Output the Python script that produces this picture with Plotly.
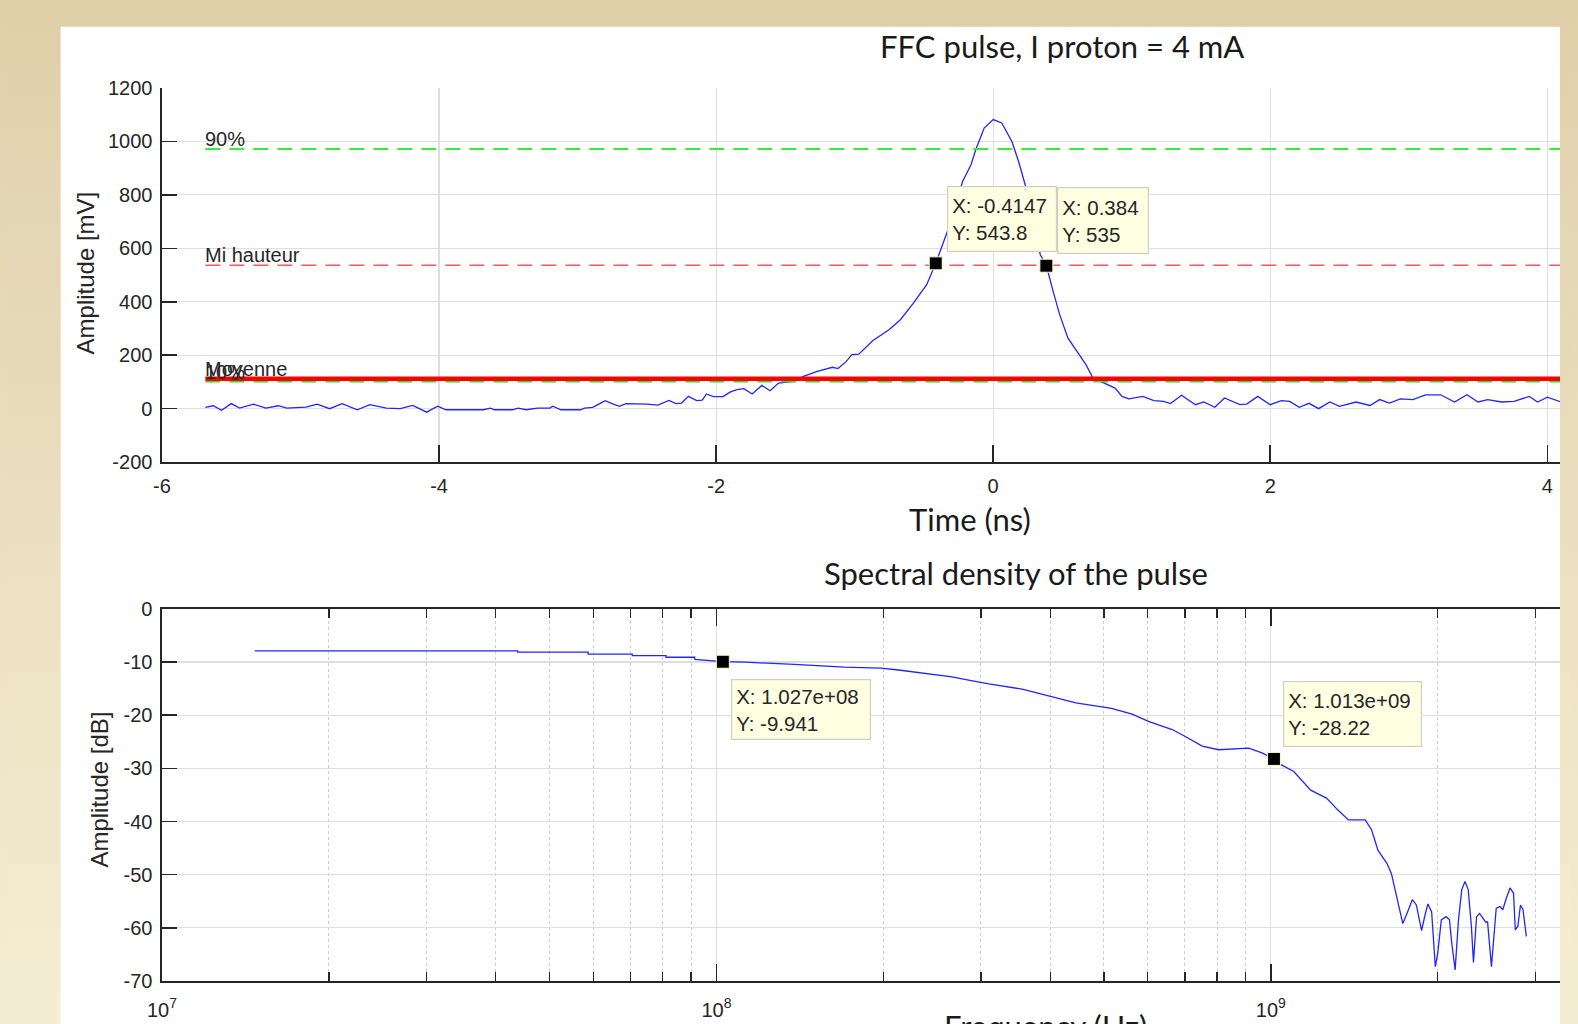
import plotly.graph_objects as go

# ---------------- data ----------------
time_ns = [-5.687, -5.63, -5.57, -5.50, -5.44, -5.34, -5.25, -5.16, -5.10, -4.96, -4.88, -4.79,
           -4.70, -4.59, -4.50, -4.38, -4.28, -4.19, -4.09, -4.01, -3.95, -3.68, -3.63, -3.60,
           -3.47, -3.43, -3.37, -3.29, -3.20, -3.18, -3.12, -2.98, -2.95, -2.89, -2.84, -2.80,
           -2.76, -2.70, -2.65, -2.50, -2.42, -2.38, -2.34, -2.29, -2.25, -2.20, -2.14, -2.10,
           -2.07, -2.02, -1.95, -1.90, -1.85, -1.80, -1.74, -1.67, -1.61, -1.55, -1.44, -1.37,
           -1.27, -1.16, -1.12, -1.06, -1.02, -0.97, -0.87, -0.75, -0.67, -0.58, -0.48, -0.4147,
           -0.33, -0.22, -0.16, -0.126, -0.065, 0.0, 0.062, 0.135, 0.183, 0.231, 0.29, 0.34,
           0.384, 0.433, 0.48, 0.54, 0.61, 0.67, 0.72, 0.82, 0.88, 0.93, 0.98, 1.08, 1.16,
           1.23, 1.28, 1.36, 1.42, 1.46, 1.52, 1.60, 1.67, 1.78, 1.83, 1.91, 2.00, 2.08, 2.14,
           2.21, 2.28, 2.35, 2.43, 2.50, 2.62, 2.72, 2.79, 2.86, 2.94, 3.03, 3.12, 3.23, 3.33,
           3.42, 3.50, 3.57, 3.67, 3.76, 3.87, 3.93, 4.00, 4.10]
amp_mv = [5, 11, -6, 19, 2, 17, 2, 11, 2, 6, 17, 0,
          19, -4, 15, 2, 0, 12, -13, 9, -4, -4, 2, -4,
          -4, 2, -4, 2, 2, 9, -4, -4, 2, 5, 19, 30,
          21, 9, 19, 17, 13, 21, 31, 19, 21, 46, 30, 32,
          55, 45, 45, 62, 71, 75, 55, 87, 67, 96, 102, 121,
          140, 155, 150, 177, 202, 204, 254, 296, 333, 392, 464, 543.8,
          664, 851, 913, 969, 1050, 1082, 1069, 1000, 926, 838, 713, 576,
          535, 439, 352, 264, 208, 165, 115, 90, 77, 46, 37, 46, 30,
          27, 19, 50, 27, 15, 25, 5, 40, 15, 17, 46, 15, 30, 27,
          5, 20, 0, 25, 9, 25, 12, 34, 21, 37, 34, 52, 52, 25,
          52, 25, 34, 25, 27, 46, 25, 43, 25]

level_labels = ["90%", "Mi hauteur", "Moyenne", "10%"]
level_values = [972, 537, 112, 101]
level_t_span = [-5.687, 4.3]

tip_t = [-0.4147, 0.384]
tip_mv = [543.8, 535]

freq_hz = [1.47e7, 4.38e7, 4.38e7, 5.87e7, 5.87e7, 7.05e7, 7.05e7, 8.11e7, 8.11e7, 9.14e7, 9.14e7,
           1.027e8, 1.13e8, 1.245e8, 1.41e8, 1.70e8, 1.98e8, 2.13e8, 2.29e8, 2.45e8, 2.66e8,
           2.85e8, 3.10e8, 3.56e8, 3.97e8, 4.45e8, 5.16e8, 5.62e8, 6.03e8, 6.64e8, 7.01e8,
           7.52e8, 8.05e8, 9.12e8, 9.64e8, 1.013e9, 1.047e9, 1.10e9, 1.18e9, 1.26e9, 1.32e9,
           1.38e9, 1.48e9, 1.52e9, 1.56e9, 1.62e9, 1.65e9, 1.69e9, 1.73e9, 1.76e9, 1.80e9,
           1.83e9, 1.87e9, 1.90e9, 1.92e9, 1.95e9, 1.98e9, 2.00e9, 2.03e9, 2.07e9, 2.10e9,
           2.12e9, 2.15e9, 2.18e9, 2.21e9, 2.24e9, 2.27e9, 2.30e9, 2.32e9, 2.35e9, 2.38e9,
           2.44e9, 2.46e9, 2.50e9, 2.55e9, 2.59e9, 2.62e9, 2.66e9, 2.70e9, 2.74e9, 2.76e9,
           2.79e9, 2.82e9, 2.85e9, 2.89e9]
spec_db = [-7.9, -7.9, -8.15, -8.15, -8.5, -8.5, -8.8, -8.8, -9.1, -9.1, -9.5,
           -9.941, -10.03, -10.2, -10.5, -10.97, -11.15, -11.5, -11.9, -12.3, -12.8,
           -13.4, -14.1, -15.1, -16.4, -17.7, -18.7, -19.8, -21.2, -22.7, -24.0,
           -25.8, -26.5, -26.2, -27.1, -28.22, -29.4, -30.6, -34.1, -35.6, -37.8,
           -39.7, -39.7, -41.6, -45.4, -47.9, -49.8, -54.8, -59.2, -57.3, -54.7,
           -55.7, -60.5, -57.3, -55.5, -57.0, -67.3, -64.8, -58.5, -57.9, -58.5,
           -62.9, -67.9, -58.5, -52.8, -51.3, -52.8, -59.7, -66.5, -57.9, -57.3,
           -58.9, -58.9, -67.3, -56.3, -56.0, -56.6, -54.4, -52.5, -53.5, -60.4,
           -59.7, -55.7, -56.6, -61.6]

tip_f = [1.027e8, 1.013e9]
tip_db = [-9.941, -28.22]

x1_ticks = [-6, -4, -2, 0, 2, 4]
x1_ticktext = ["-6", "-4", "-2", "0", "2", "4"]
y1_ticks = [-200, 0, 200, 400, 600, 800, 1000, 1200]
y1_ticktext = ["-200", "0", "200", "400", "600", "800", "1000", "1200"]
x2_ticks = [1e7, 1e8, 1e9]
x2_ticktext = ["10<sup>7</sup>", "10<sup>8</sup>", "10<sup>9</sup>"]
x2_minor = [2e7, 3e7, 4e7, 5e7, 6e7, 7e7, 8e7, 9e7, 2e8, 3e8, 4e8, 5e8, 6e8, 7e8, 8e8, 9e8, 2e9, 3e9]
y2_ticks = [-70, -60, -50, -40, -30, -20, -10, 0]
y2_ticktext = ["-70", "-60", "-50", "-40", "-30", "-20", "-10", "0"]

# ---------------- layout geometry ----------------
# The page body keeps its default 8px margin, so the figure is drawn 8px in from
# the top-left corner of the window; all positions below are window pixels.
OFF = 8
WIN_W, WIN_H = 1578, 1024
WIDTH, HEIGHT = WIN_W - OFF, WIN_H - OFF
L, R, T, B = 162.3, 1560.0, 88.3, 981.0        # plot area in window pixels
PW, PH = R - L, B - T


def ax(px):
    return (px - L) / PW


def ay(py):
    return (B - py) / PH


TXT = "#262626"
MFONT = "Liberation Sans, Arial, Helvetica, sans-serif"
TFONT = "Lato, Open Sans, sans-serif"
GRID = "#dedede"

fig = go.Figure()

fig.add_trace(go.Scatter(x=time_ns, y=amp_mv, mode="lines", line=dict(color="#2424ff", width=1.3),
                         xaxis="x", yaxis="y", showlegend=False, hoverinfo="skip"))
level_styles = [dict(color="#33ee33", width=2, dash="15px,9px"),
                dict(color="#ff5555", width=1.6, dash="15px,9px"),
                dict(color="#ff0000", width=4.5),
                dict(color="#33dd33", width=1.6, dash="15px,9px")]
for i in [0, 1, 3, 2]:
    fig.add_trace(go.Scatter(x=level_t_span, y=[level_values[i]] * 2, mode="lines",
                             line=level_styles[i], xaxis="x", yaxis="y", showlegend=False,
                             hoverinfo="skip"))
fig.add_trace(go.Scatter(x=tip_t, y=tip_mv, mode="markers",
                         marker=dict(symbol="square", size=13, color="black",
                                     line=dict(color="#ffffcc", width=1)),
                         xaxis="x", yaxis="y", showlegend=False, hoverinfo="skip"))

fig.add_trace(go.Scatter(x=freq_hz, y=spec_db, mode="lines", line=dict(color="#2424ff", width=1.3),
                         xaxis="x2", yaxis="y2", showlegend=False, hoverinfo="skip"))
fig.add_trace(go.Scatter(x=tip_f, y=tip_db, mode="markers",
                         marker=dict(symbol="square", size=13, color="black",
                                     line=dict(color="#ffffcc", width=1)),
                         xaxis="x2", yaxis="y2", showlegend=False, hoverinfo="skip"))

# ---------------- background shapes ----------------
shapes = []
nb = 32
c0 = (223, 208, 170)
c1 = (245, 237, 211)
for k in range(nb):
    f = k / (nb - 1)
    col = "rgb(%d,%d,%d)" % tuple(round(c0[j] + (c1[j] - c0[j]) * f) for j in range(3))
    shapes.append(dict(type="rect", xref="paper", yref="paper", layer="below",
                       x0=ax(-5), x1=ax(WIN_W + 5),
                       y0=ay(WIN_H * (k + 1) / nb + 1), y1=ay(WIN_H * k / nb),
                       fillcolor=col, line=dict(width=0)))
shapes.append(dict(type="rect", xref="paper", yref="paper", layer="below",
                   x0=ax(61), x1=ax(1560), y0=ay(WIN_H + 30), y1=ay(27),
                   fillcolor="white", line=dict(width=0)))

# ---------------- annotations ----------------
ann = []
for txt, cx, cy in [("FFC pulse, I proton = 4 mA", 1062, 46), ("Time (ns)", 970, 519),
                    ("Spectral density of the pulse", 1016, 573), ("Frequency (Hz)", 1046, 1026)]:
    ann.append(dict(text=txt, x=ax(cx), y=ay(cy), xref="paper", yref="paper",
                    showarrow=False, xanchor="center", yanchor="middle",
                    font=dict(family=TFONT, size=31, color="#1a1a1a")))
ann.append(dict(text="Amplitude [mV]", x=ax(86), y=ay(273), xref="paper", yref="paper",
                showarrow=False, textangle=-90, xanchor="center", yanchor="middle",
                font=dict(family=MFONT, size=24, color=TXT)))
ann.append(dict(text="Amplitude [dB]", x=ax(100), y=ay(790), xref="paper", yref="paper",
                showarrow=False, textangle=-90, xanchor="center", yanchor="middle",
                font=dict(family=MFONT, size=24, color=TXT)))
for lab, val in zip(level_labels, level_values):
    ann.append(dict(text=lab, x=level_t_span[0], y=val, xref="x", yref="y", showarrow=False,
                    xanchor="left", yanchor="bottom", xshift=-2, yshift=-3,
                    font=dict(family=MFONT, size=20, color=TXT)))


def tipbox(txt, x0, y0, w, h):
    return dict(text=txt, x=ax(x0), y=ay(y0), xref="paper", yref="paper", showarrow=False,
                xanchor="left", yanchor="top", align="left", width=w, height=h,
                bgcolor="#ffffe1", bordercolor="#cfcfc4", borderwidth=1.2, borderpad=4,
                font=dict(family=MFONT, size=20.5, color=TXT))


ann.append(tipbox("X: %g<br>Y: %g" % (tip_t[0], tip_mv[0]), 946.7, 186, 100, 56))
ann.append(tipbox("X: %g<br>Y: %g" % (tip_t[1], tip_mv[1]), 1057, 187.3, 82, 57))
ann.append(tipbox("X: %.3e<br>Y: %g" % (tip_f[0], tip_db[0]), 731, 679, 130, 51))
ann.append(tipbox("X: %.3e<br>Y: %g" % (tip_f[1], tip_db[1]), 1283, 681, 129, 56))

axis_common = dict(showline=True, linecolor="#262626", linewidth=1.6, ticks="inside",
                   tickcolor="#262626", tickwidth=1.6, showgrid=True, gridcolor=GRID,
                   gridwidth=1.2, zeroline=False, automargin=False,
                   tickfont=dict(family=MFONT, size=20, color=TXT))

fig.update_layout(
    width=WIDTH, height=HEIGHT, autosize=False,
    margin=dict(l=L - OFF, r=WIN_W - R, t=T - OFF, b=WIN_H - B, pad=0, autoexpand=False),
    paper_bgcolor="#ece0c0", plot_bgcolor="white",
    showlegend=False,
    xaxis=dict(axis_common, domain=[0, 1], range=[-6, -6 + PW / 138.5], tickmode="array",
               tickvals=x1_ticks, ticktext=x1_ticktext, ticklen=17, ticklabelstandoff=5,
               anchor="y", mirror=False),
    yaxis=dict(axis_common, domain=[ay(462.3), 1], range=[-200, 1200], tickmode="array",
               tickvals=y1_ticks, ticktext=y1_ticktext, ticklen=15, ticklabelstandoff=4,
               anchor="x", mirror=False),
    xaxis2=dict(axis_common, domain=[0, 1], type="log", range=[7, 7 + PW / 554.3],
                tickmode="array", tickvals=x2_ticks, ticktext=x2_ticktext, ticklen=17,
                ticklabelstandoff=10, anchor="y2", mirror="ticks",
                minor=dict(tickmode="array", tickvals=x2_minor, ticks="inside", ticklen=9,
                           tickcolor="#262626", tickwidth=1.3, showgrid=True,
                           gridcolor="#cccccc", griddash="dot", gridwidth=1)),
    yaxis2=dict(axis_common, domain=[0, ay(609)], range=[-70, 0], tickmode="array",
                tickvals=y2_ticks, ticktext=y2_ticktext, ticklen=15, ticklabelstandoff=4,
                anchor="x2", mirror=False),
    shapes=shapes,
    annotations=ann,
)

fig.write_html("out.html",
               config={"responsive": False, "displayModeBar": False, "staticPlot": True},
               post_script="document.body.style.background='linear-gradient(#dfd0aa, #f5edd3)';")
